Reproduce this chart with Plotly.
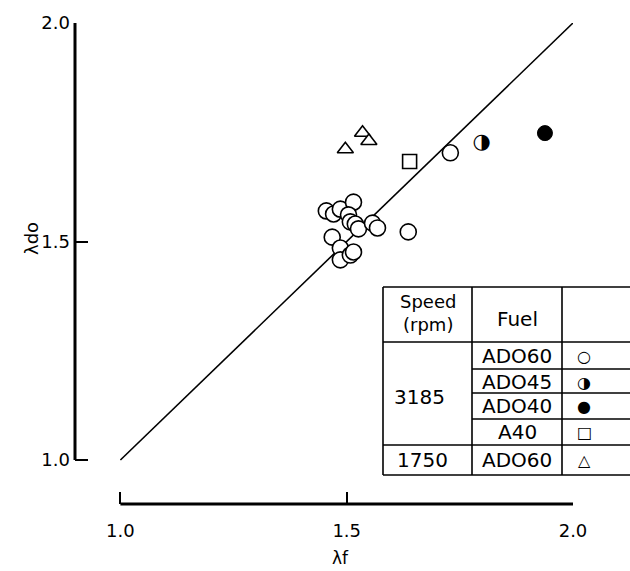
import plotly.graph_objects as go

# ---- data ----
ado60_3185_x = [1.455, 1.471, 1.486, 1.515, 1.504, 1.508, 1.519, 1.526, 1.557, 1.568,
                1.468, 1.486, 1.486, 1.508, 1.515, 1.636, 1.729]
ado60_3185_y = [1.570, 1.563, 1.574, 1.590, 1.561, 1.545, 1.540, 1.529, 1.542, 1.531,
                1.510, 1.485, 1.458, 1.469, 1.476, 1.522, 1.703]
ado45_x = [1.798]
ado45_y = [1.727]
ado40_x = [1.938]
ado40_y = [1.748]
a40_x = [1.639]
a40_y = [1.683]
ado60_1750_x = [1.497, 1.535, 1.549]
ado60_1750_y = [1.711, 1.749, 1.730]
ref_line_x = [1.0, 2.0]
ref_line_y = [1.0, 2.0]
tick_vals = [1.0, 1.5, 2.0]
tick_text = ["1.0", "1.5", "2.0"]

W, H = 630, 571
L, R, T, B = 75, 57, 23, 67
PW, PH = W - L - R, H - T - B
x_per = 452.6
y_per = 437.0
x_range = [2.0 - PW / x_per, 2.0]
y_range = [2.0 - PH / y_per, 2.0]

def px(xp):
    return (xp - L) / PW

def py(yp):
    return (H - B - yp) / PH

FONT = "DejaVu Sans"

fig = go.Figure()
fig.add_trace(go.Scatter(x=ref_line_x, y=ref_line_y, mode="lines",
                         line=dict(color="black", width=1.6), hoverinfo="skip"))
fig.add_trace(go.Scatter(x=ado60_3185_x, y=ado60_3185_y, mode="markers",
                         marker=dict(symbol="circle", size=16, color="white",
                                     line=dict(color="black", width=1.6))))
fig.add_trace(go.Scatter(x=ado45_x, y=ado45_y, mode="text", text=["◑"],
                         textfont=dict(size=21, color="black", family=FONT)))
fig.add_trace(go.Scatter(x=ado40_x, y=ado40_y, mode="markers",
                         marker=dict(symbol="circle", size=15, color="black",
                                     line=dict(color="black", width=1))))
fig.add_trace(go.Scatter(x=a40_x, y=a40_y, mode="markers",
                         marker=dict(symbol="square", size=14, color="white",
                                     line=dict(color="black", width=1.6))))
fig.add_trace(go.Scatter(x=ado60_1750_x, y=ado60_1750_y, mode="markers",
                         marker=dict(symbol="triangle-up", size=14, color="white",
                                     line=dict(color="black", width=1.6))))

shapes = []
# axis lines
shapes.append(dict(type="line", xref="x", yref="paper", x0=1.0, x1=2.0, y0=0, y1=0,
                   line=dict(color="black", width=3)))
shapes.append(dict(type="line", xref="paper", yref="y", x0=0, x1=0, y0=1.0, y1=2.0,
                   line=dict(color="black", width=3)))

# table
tl = dict(color="black", width=1.6)
xl, xv1, xv2, xr = 383, 472, 562, 640
yt, yh, yb = 287, 342, 475
for (x0, y0, x1, y1) in [
    (xl, yt, xr, yt), (xl, yb, xr, yb), (xl, yt, xl, yb),
    (xv1, yt, xv1, yb), (xv2, yt, xv2, yb), (xl, yh, xr, yh),
    (xv1, 369, xr, 369), (xv1, 393, xr, 393), (xv1, 419, xr, 419),
    (xl, 445, xr, 445)]:
    shapes.append(dict(type="line", xref="paper", yref="paper",
                       x0=px(x0), x1=px(x1), y0=py(y0), y1=py(y1), line=tl))

annotations = []
def ann(text, xp, yp, size=20, **kw):
    annotations.append(dict(text=text, x=px(xp), y=py(yp), xref="paper", yref="paper",
                            showarrow=False, xanchor="center", yanchor="middle",
                            font=dict(size=size, color="black", family=FONT), **kw))

ann("Speed<br>(rpm)", 428, 313, size=18)
ann("Fuel", 517, 319)
ann("3185", 419, 397)
ann("1750", 422, 460)
fuels = ["ADO60", "ADO45", "ADO40", "A40", "ADO60"]
rows_y = [356, 382, 406, 432, 460]
syms = ["○", "◑", "●", "□", "△"]
for f, yy, s in zip(fuels, rows_y, syms):
    ann(f, 517, yy)
    ann(s, 584, yy, size=16)

# axis titles
ann("λf", 340, 558, size=17)
ann("λdo", 31, 239, size=18, textangle=-90)

fig.update_layout(
    width=W, height=H, margin=dict(l=L, r=R, t=T, b=B),
    paper_bgcolor="white", plot_bgcolor="white", showlegend=False,
    shapes=shapes, annotations=annotations,
    font=dict(family=FONT, size=18, color="black"),
    xaxis=dict(range=x_range, tickvals=tick_vals, ticktext=tick_text,
               ticks="inside", ticklen=12, tickwidth=1.5, tickcolor="black",
               showline=False, showgrid=False, zeroline=False,
               ticklabelstandoff=14,
               tickfont=dict(size=18, family=FONT)),
    yaxis=dict(range=y_range, tickvals=tick_vals, ticktext=tick_text,
               ticks="inside", ticklen=13, tickwidth=1.5, tickcolor="black",
               showline=False, showgrid=False, zeroline=False,
               ticklabelstandoff=4,
               tickfont=dict(size=18, family=FONT)),
)
fig.write_html("out.html")
